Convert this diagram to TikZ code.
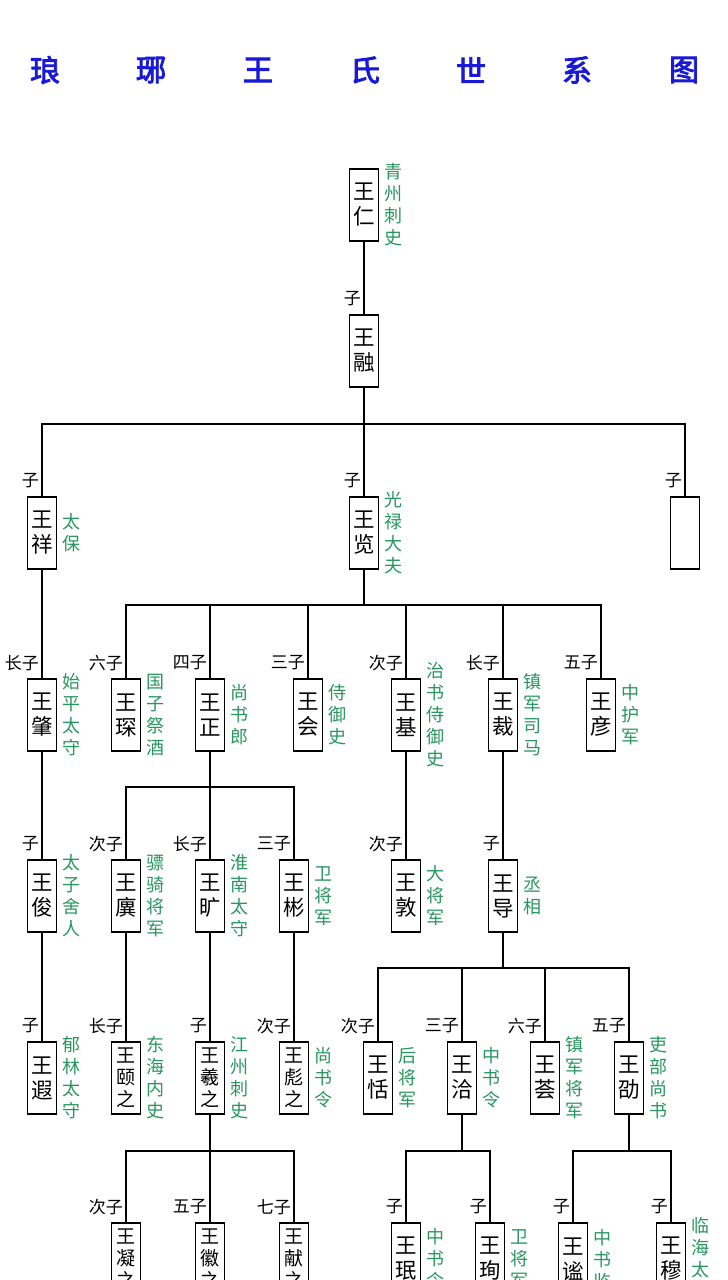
\documentclass[tikz,border=0pt]{standalone}
\usepackage{fontspec}
\newfontfamily\cjk{Noto Sans CJK SC}
\newfontfamily\cjktitle{Noto Sans CJK SC}[FakeBold=3]
\definecolor{offgreen}{RGB}{40,150,95}
\definecolor{titleblue}{RGB}{25,25,215}
\tikzset{
  person/.style={draw, line width=1.3pt, minimum width=29pt, minimum height=72pt, inner sep=0pt,
    font=\cjk\fontsize{21.5}{25}\selectfont, align=center},
  personiii/.style={person, font=\cjk\fontsize{19}{22}\selectfont},
  office/.style={text=offgreen, font=\cjk\fontsize{18}{22}\selectfont, align=center, inner sep=0pt},
  rel/.style={font=\cjk\fontsize{17}{17}\selectfont, anchor=east, inner sep=0pt},
  link/.style={line width=1.3pt},
  ttl/.style={text=titleblue, font=\cjktitle\fontsize{30}{30}\selectfont, inner sep=0pt}
}
% #1 style, #2 id, #3 x, #4 top y, #5 name, #6 office, #7 relation
\newcommand\famnode[7]{%
  \node[#1] (#2) at (#3,#4+36) {#5};
  \node[office] (#2o) at (#3+29,#4+36) {#6};
  \node[rel] (#2r) at (#3-3,#4-16) {#7};
}
\begin{document}
\begin{tikzpicture}[x=1pt,y=-1pt]
\fill[white] (0,0) rectangle (728,1280);
\useasboundingbox (0,0) rectangle (728,1280);
% title
\node[ttl] (t1) at (45,70) {琅};
\node[ttl] (t2) at (151,70) {琊};
\node[ttl] (t3) at (258,70) {王};
\node[ttl] (t4) at (365,70) {氏};
\node[ttl] (t5) at (471,70) {世};
\node[ttl] (t6) at (577,70) {系};
\node[ttl] (t7) at (684,70) {图};

% generation 1-2
\famnode{person}{ren}{364}{169}{王\\仁}{青\\州\\刺\\史}{}
\famnode{person}{rong}{364}{315}{王\\融}{}{子}
\draw[link] (ren.south) -- (rong.north);

% generation 3
\famnode{person}{xiang}{42}{497}{王\\祥}{太\\保}{子}
\famnode{person}{lan}{364}{497}{王\\览}{光\\禄\\大\\夫}{子}
\famnode{person}{blank}{685}{497}{}{}{子}
\coordinate (b1) at (364,424);
\draw[link] (rong.south) -- (b1);
\draw[link] (b1) -| (xiang.north);
\draw[link] (b1) -- (lan.north);
\draw[link] (b1) -| (blank.north);

% generation 4
\famnode{person}{zhao}{42}{679}{王\\肇}{始\\平\\太\\守}{长子}
\famnode{person}{chen}{126}{679}{王\\琛}{国\\子\\祭\\酒}{六子}
\famnode{person}{zheng}{210}{679}{王\\正}{尚\\书\\郎}{四子}
\famnode{person}{hui}{308}{679}{王\\会}{侍\\御\\史}{三子}
\famnode{person}{ji}{406}{679}{王\\基}{治\\书\\侍\\御\\史}{次子}
\famnode{person}{cai}{503}{679}{王\\裁}{镇\\军\\司\\马}{长子}
\famnode{person}{yan}{601}{679}{王\\彦}{中\\护\\军}{五子}
\draw[link] (xiang.south) -- (zhao.north);
\coordinate (b2) at (364,605);
\draw[link] (lan.south) -- (b2);
\draw[link] (b2) -| (chen.north);
\draw[link] (b2) -| (zheng.north);
\draw[link] (b2) -| (hui.north);
\draw[link] (b2) -| (ji.north);
\draw[link] (b2) -| (cai.north);
\draw[link] (b2) -| (yan.north);

% generation 5
\famnode{person}{jun}{42}{860}{王\\俊}{太\\子\\舍\\人}{子}
\famnode{person}{yi}{126}{860}{王\\廙}{骠\\骑\\将\\军}{次子}
\famnode{person}{kuang}{210}{860}{王\\旷}{淮\\南\\太\\守}{长子}
\famnode{person}{bin}{294}{860}{王\\彬}{卫\\将\\军}{三子}
\famnode{person}{dun}{406}{860}{王\\敦}{大\\将\\军}{次子}
\famnode{person}{dao}{503}{860}{王\\导}{丞\\相}{子}
\draw[link] (zhao.south) -- (jun.north);
\coordinate (b3) at (210,787);
\draw[link] (zheng.south) -- (b3);
\draw[link] (b3) -| (yi.north);
\draw[link] (b3) -- (kuang.north);
\draw[link] (b3) -| (bin.north);
\draw[link] (ji.south) -- (dun.north);
\draw[link] (cai.south) -- (dao.north);

% generation 6
\famnode{person}{xia}{42}{1042}{王\\遐}{郁\\林\\太\\守}{子}
\famnode{personiii}{yizhi}{126}{1042}{王\\颐\\之}{东\\海\\内\\史}{长子}
\famnode{personiii}{xizhi}{210}{1042}{王\\羲\\之}{江\\州\\刺\\史}{子}
\famnode{personiii}{biaozhi}{294}{1042}{王\\彪\\之}{尚\\书\\令}{次子}
\famnode{person}{tian}{378}{1042}{王\\恬}{后\\将\\军}{次子}
\famnode{person}{qia}{462}{1042}{王\\洽}{中\\书\\令}{三子}
\famnode{person}{hui2}{545}{1042}{王\\荟}{镇\\军\\将\\军}{六子}
\famnode{person}{shao}{629}{1042}{王\\劭}{吏\\部\\尚\\书}{五子}
\draw[link] (jun.south) -- (xia.north);
\draw[link] (yi.south) -- (yizhi.north);
\draw[link] (kuang.south) -- (xizhi.north);
\draw[link] (bin.south) -- (biaozhi.north);
\coordinate (b4) at (503,968);
\draw[link] (dao.south) -- (b4);
\draw[link] (b4) -| (tian.north);
\draw[link] (b4) -| (qia.north);
\draw[link] (b4) -| (hui2.north);
\draw[link] (b4) -| (shao.north);

% generation 7
\famnode{personiii}{ningzhi}{126}{1223}{王\\凝\\之}{}{次子}
\famnode{personiii}{huizhi}{210}{1223}{王\\徽\\之}{}{五子}
\famnode{personiii}{xianzhi}{294}{1223}{王\\献\\之}{}{七子}
\famnode{person}{min}{406}{1223}{王\\珉}{中\\书\\令}{子}
\famnode{person}{xun}{490}{1223}{王\\珣}{卫\\将\\军}{子}
\famnode{person}{mi}{573}{1223}{王\\谧}{中\\书\\监}{子}
\famnode{person}{mu}{671}{1223}{王\\穆}{临\\海\\太\\守}{子}
\coordinate (b5) at (210,1151);
\draw[link] (xizhi.south) -- (b5);
\draw[link] (b5) -| (ningzhi.north);
\draw[link] (b5) -- (huizhi.north);
\draw[link] (b5) -| (xianzhi.north);
\coordinate (b6) at (462,1151);
\draw[link] (qia.south) -- (b6);
\draw[link] (b6) -| (min.north);
\draw[link] (b6) -| (xun.north);
\coordinate (b7) at (629,1151);
\draw[link] (shao.south) -- (b7);
\draw[link] (b7) -| (mi.north);
\draw[link] (b7) -| (mu.north);
\end{tikzpicture}
\end{document}
